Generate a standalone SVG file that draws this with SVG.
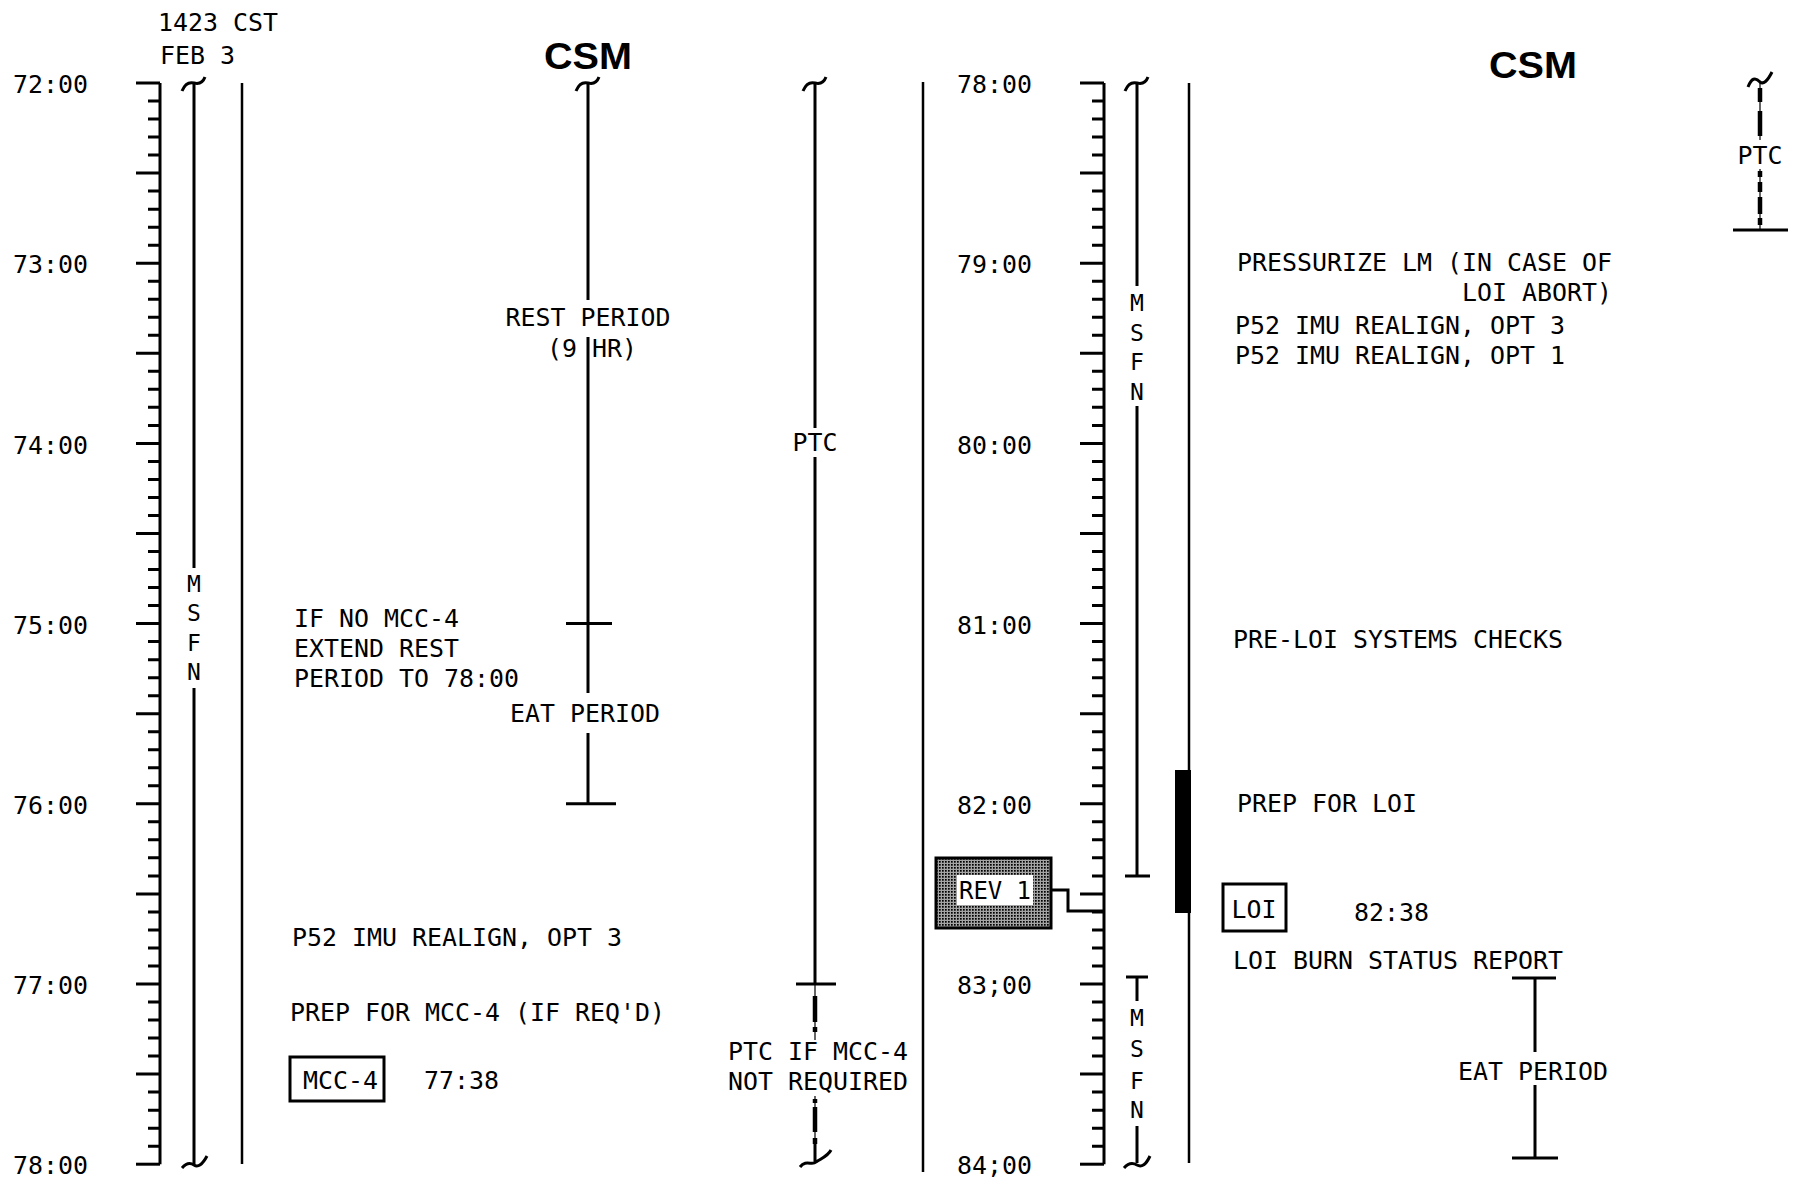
<svg xmlns="http://www.w3.org/2000/svg" width="1795" height="1179" viewBox="0 0 1795 1179">
<style>
.t{font-family:"DejaVu Sans Mono","Liberation Mono",monospace;font-size:25px;fill:#000}
.s{font-family:"DejaVu Sans Mono","Liberation Mono",monospace;font-size:23px;fill:#000}
.c{font-family:"Liberation Sans","DejaVu Sans",sans-serif;font-weight:700;font-size:37px;fill:#000}
.ln{stroke:#000;stroke-width:3;fill:none}
.th{stroke:#000;stroke-width:2.5;fill:none}
.tk{stroke:#000;stroke-width:3;fill:none}
.dsh{stroke:#000;stroke-width:4.5;fill:none}
.thin{stroke:#000;stroke-width:1.2;fill:none}
.box{fill:#fff;stroke:#000;stroke-width:3}
</style>
<defs>
<path id="hourTicks" class="tk" d="M-24 0H0 M-12 18.02H0 M-12 36.04H0 M-12 54.06H0 M-12 72.08H0 M-24 90.1H0 M-12 108.12H0 M-12 126.14H0 M-12 144.16H0 M-12 162.18H0"/>
<pattern id="stipple" width="3" height="3" patternUnits="userSpaceOnUse">
<rect width="3" height="3" fill="#a4a4a4"/>
<rect width="1.7" height="1.7" fill="#000"/>
</pattern>
</defs>
<rect width="1795" height="1179" fill="#fff"/>

<g id="header-left">
<text class="t" x="158" y="31" textLength="120" lengthAdjust="spacingAndGlyphs">1423 CST</text>
<text class="t" x="160" y="64" textLength="75" lengthAdjust="spacingAndGlyphs">FEB 3</text>
<text class="c" x="588" y="69" text-anchor="middle" textLength="88" lengthAdjust="spacingAndGlyphs">CSM</text>
</g>
<g id="header-right">
<text class="c" x="1533" y="78" text-anchor="middle" textLength="88" lengthAdjust="spacingAndGlyphs">CSM</text>
</g>

<g id="scale-left">
<path class="ln" d="M160 83V1164.2"/>
<use href="#hourTicks" transform="translate(160,83)"/>
<use href="#hourTicks" transform="translate(160,263.2)"/>
<use href="#hourTicks" transform="translate(160,443.4)"/>
<use href="#hourTicks" transform="translate(160,623.6)"/>
<use href="#hourTicks" transform="translate(160,803.8)"/>
<use href="#hourTicks" transform="translate(160,984)"/>
<path class="tk" d="M136 1164.2H160"/>
<text class="t" x="13" y="93" textLength="75" lengthAdjust="spacingAndGlyphs">72:00</text>
<text class="t" x="13" y="273" textLength="75" lengthAdjust="spacingAndGlyphs">73:00</text>
<text class="t" x="13" y="454" textLength="75" lengthAdjust="spacingAndGlyphs">74:00</text>
<text class="t" x="13" y="634" textLength="75" lengthAdjust="spacingAndGlyphs">75:00</text>
<text class="t" x="13" y="814" textLength="75" lengthAdjust="spacingAndGlyphs">76:00</text>
<text class="t" x="13" y="994" textLength="75" lengthAdjust="spacingAndGlyphs">77:00</text>
<text class="t" x="13" y="1174" textLength="75" lengthAdjust="spacingAndGlyphs">78:00</text>
</g>

<g id="msfn-left">
<path class="ln" d="M182 91 Q186 81 194 83 T205 77"/>
<path class="ln" d="M194 83V568 M194 688V1164"/>
<path class="ln" d="M182 1168 Q188 1161 194 1165 T207 1156"/>
<text class="s" x="194" y="592" text-anchor="middle">M</text>
<text class="s" x="194" y="621" text-anchor="middle">S</text>
<text class="s" x="194" y="651" text-anchor="middle">F</text>
<text class="s" x="194" y="680" text-anchor="middle">N</text>
</g>

<g id="line-left">
<path class="th" d="M242 83V1164"/>
</g>

<g id="rest-period">
<path class="ln" d="M576 91 Q580 81 588 83 T599 77"/>
<path class="ln" d="M588 83V300 M588 337V693 M588 733V804"/>
<path class="ln" d="M566 623.6H612 M566 803.8H616"/>
<text class="t" x="588" y="326" text-anchor="middle" textLength="165" lengthAdjust="spacingAndGlyphs">REST PERIOD</text>
<text class="t" x="592" y="357" text-anchor="middle" textLength="90" lengthAdjust="spacingAndGlyphs">(9 HR)</text>
<text class="t" x="585" y="722" text-anchor="middle" textLength="150" lengthAdjust="spacingAndGlyphs">EAT PERIOD</text>
</g>

<g id="notes-left">
<text class="t" x="294" y="627" textLength="165" lengthAdjust="spacingAndGlyphs">IF NO MCC-4</text>
<text class="t" x="294" y="657" textLength="165" lengthAdjust="spacingAndGlyphs">EXTEND REST</text>
<text class="t" x="294" y="687" textLength="225" lengthAdjust="spacingAndGlyphs">PERIOD TO 78:00</text>
<text class="t" x="292" y="946" textLength="330" lengthAdjust="spacingAndGlyphs">P52 IMU REALIGN, OPT 3</text>
<text class="t" x="290" y="1021" textLength="375" lengthAdjust="spacingAndGlyphs">PREP FOR MCC-4 (IF REQ'D)</text>
</g>

<g id="mcc4">
<rect class="box" x="290" y="1057" width="94" height="44"/>
<text class="t" x="303" y="1089" textLength="75" lengthAdjust="spacingAndGlyphs">MCC-4</text>
<text class="t" x="424" y="1089" textLength="75" lengthAdjust="spacingAndGlyphs">77:38</text>
</g>

<g id="ptc-mid">
<path class="ln" d="M803 91 Q807 81 815 83 T826 77"/>
<path class="ln" d="M815 83V428 M815 457V984"/>
<path class="ln" d="M796 984H836"/>
<text class="t" x="815" y="451" text-anchor="middle" textLength="45" lengthAdjust="spacingAndGlyphs">PTC</text>
<path class="thin" d="M815 984V1040 M815 1096V1160"/>
<path class="dsh" d="M815 996V1022 M815 1027V1032 M815 1099V1103 M815 1107V1132 M815 1138V1144"/>
<path class="ln" d="M815 1144V1162 M800 1167 C806 1159 812 1166 816 1162 C822 1158 828 1156 831 1150"/>
<text class="t" x="818" y="1060" text-anchor="middle" textLength="180" lengthAdjust="spacingAndGlyphs">PTC IF MCC-4</text>
<text class="t" x="818" y="1090" text-anchor="middle" textLength="180" lengthAdjust="spacingAndGlyphs">NOT REQUIRED</text>
</g>

<g id="divider">
<path class="th" d="M923 82V1172"/>
</g>

<g id="scale-right">
<path class="ln" d="M1104 83V1164.2"/>
<use href="#hourTicks" transform="translate(1104,83)"/>
<use href="#hourTicks" transform="translate(1104,263.2)"/>
<use href="#hourTicks" transform="translate(1104,443.4)"/>
<use href="#hourTicks" transform="translate(1104,623.6)"/>
<use href="#hourTicks" transform="translate(1104,803.8)"/>
<use href="#hourTicks" transform="translate(1104,984)"/>
<path class="tk" d="M1080 1164.2H1104"/>
<text class="t" x="957" y="93" textLength="75" lengthAdjust="spacingAndGlyphs">78:00</text>
<text class="t" x="957" y="273" textLength="75" lengthAdjust="spacingAndGlyphs">79:00</text>
<text class="t" x="957" y="454" textLength="75" lengthAdjust="spacingAndGlyphs">80:00</text>
<text class="t" x="957" y="634" textLength="75" lengthAdjust="spacingAndGlyphs">81:00</text>
<text class="t" x="957" y="814" textLength="75" lengthAdjust="spacingAndGlyphs">82:00</text>
<text class="t" x="957" y="994" textLength="75" lengthAdjust="spacingAndGlyphs">83;00</text>
<text class="t" x="957" y="1174" textLength="75" lengthAdjust="spacingAndGlyphs">84;00</text>
</g>

<g id="msfn-right-1">
<path class="ln" d="M1125 91 Q1129 81 1137 83 T1148 77"/>
<path class="ln" d="M1137 83V286 M1137 406V876 M1125 876H1150"/>
<text class="s" x="1137" y="311" text-anchor="middle">M</text>
<text class="s" x="1137" y="341" text-anchor="middle">S</text>
<text class="s" x="1137" y="370" text-anchor="middle">F</text>
<text class="s" x="1137" y="400" text-anchor="middle">N</text>
</g>

<g id="msfn-right-2">
<path class="ln" d="M1126 977H1148 M1137 977V1001 M1137 1126V1163"/>
<path class="ln" d="M1124 1168 Q1130 1161 1137 1165 T1150 1156"/>
<text class="s" x="1137" y="1026" text-anchor="middle">M</text>
<text class="s" x="1137" y="1057" text-anchor="middle">S</text>
<text class="s" x="1137" y="1089" text-anchor="middle">F</text>
<text class="s" x="1137" y="1118" text-anchor="middle">N</text>
</g>

<g id="line-right">
<path class="th" d="M1189 83V1163"/>
<rect x="1175" y="770" width="16" height="143" fill="#000"/>
</g>

<g id="rev1">
<rect x="936" y="858" width="115" height="70" fill="url(#stipple)" stroke="#000" stroke-width="3"/>
<rect x="957" y="875" width="76" height="30" fill="#fff"/>
<text class="t" x="995" y="899" text-anchor="middle" textLength="72" lengthAdjust="spacingAndGlyphs">REV 1</text>
</g>

<g id="connectors">
<path class="ln" d="M1051 890H1068V911H1104"/>
</g>

<g id="notes-right">
<text class="t" x="1237" y="271" textLength="375" lengthAdjust="spacingAndGlyphs">PRESSURIZE LM (IN CASE OF</text>
<text class="t" x="1462" y="301" textLength="150" lengthAdjust="spacingAndGlyphs">LOI ABORT)</text>
<text class="t" x="1235" y="334" textLength="330" lengthAdjust="spacingAndGlyphs">P52 IMU REALIGN, OPT 3</text>
<text class="t" x="1235" y="364" textLength="330" lengthAdjust="spacingAndGlyphs">P52 IMU REALIGN, OPT 1</text>
<text class="t" x="1233" y="648" textLength="330" lengthAdjust="spacingAndGlyphs">PRE-LOI SYSTEMS CHECKS</text>
<text class="t" x="1237" y="812" textLength="180" lengthAdjust="spacingAndGlyphs">PREP FOR LOI</text>
<text class="t" x="1233" y="969" textLength="330" lengthAdjust="spacingAndGlyphs">LOI BURN STATUS REPORT</text>
</g>

<g id="loi">
<rect class="box" x="1223" y="884" width="63" height="47"/>
<text class="t" x="1254" y="918" text-anchor="middle" textLength="45" lengthAdjust="spacingAndGlyphs">LOI</text>
<text class="t" x="1354" y="921" textLength="75" lengthAdjust="spacingAndGlyphs">82:38</text>
</g>

<g id="eat-right">
<path class="ln" d="M1512 978H1556 M1535 978V1052 M1535 1085V1158 M1512 1158H1558"/>
<text class="t" x="1533" y="1080" text-anchor="middle" textLength="150" lengthAdjust="spacingAndGlyphs">EAT PERIOD</text>
</g>

<g id="ptc-right">
<path class="ln" d="M1748 87 Q1753 74 1760 82 Q1765 86 1772 72"/>
<path class="thin" d="M1760 82V140 M1760 169V230"/>
<path class="dsh" d="M1760 88V102 M1760 111V136 M1760 171V177 M1760 182V192 M1760 197V214 M1760 218V225"/>
<path class="ln" d="M1733 230H1788"/>
<text class="t" x="1760" y="164" text-anchor="middle" textLength="45" lengthAdjust="spacingAndGlyphs">PTC</text>
</g>
</svg>
